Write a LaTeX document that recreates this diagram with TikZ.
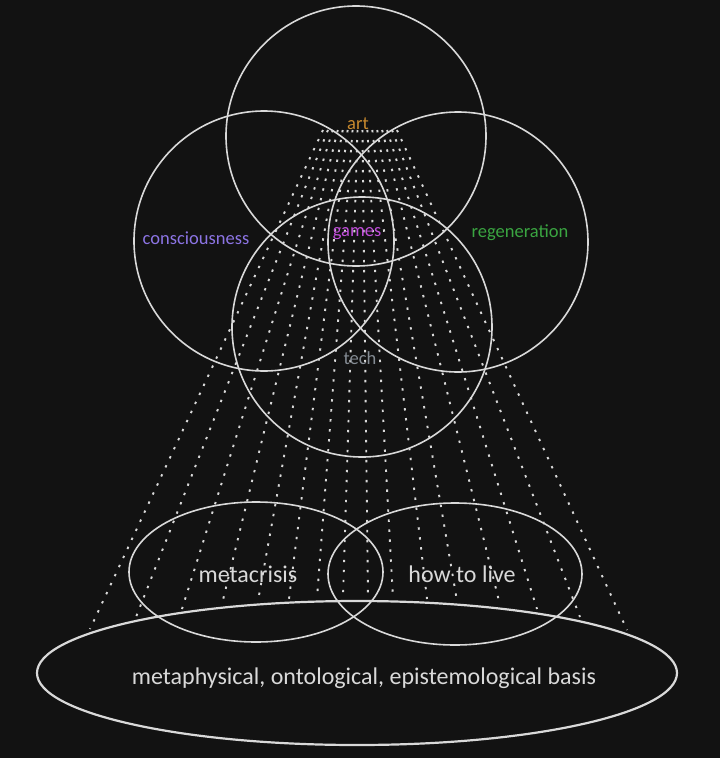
\documentclass[tikz,border=0pt]{standalone}
\usepackage{fontspec}
\setmainfont{Carlito}
\usetikzlibrary{shapes.geometric}

\definecolor{bg}{HTML}{121212}
\definecolor{ink}{HTML}{D9D9D9}
\definecolor{artc}{HTML}{C98A2E}
\definecolor{consc}{HTML}{8C74E4}
\definecolor{gamesc}{HTML}{C24FDC}
\definecolor{regenc}{HTML}{3AA541}
\definecolor{techc}{HTML}{858C94}

\begin{document}
\begin{tikzpicture}[x=1pt, y=-1pt,
        venn/.style={circle, draw=ink, line width=1.6pt, minimum size=260pt, inner sep=0pt},
        oval/.style={ellipse, draw=ink, line width=1.6pt, inner sep=0pt},
        ray/.style={ink, line width=1.9pt, dash pattern=on 2.4pt off 7.6pt},
        tag/.style={font=\fontsize{18.5}{20}\selectfont},
        big/.style={font=\fontsize{24}{26}\selectfont, text=ink}]
        \fill[bg] (0,0) rectangle (720,758);

        % fan of dotted rays
        \foreach \bx/\by [count=\i from 0] in {90/629, 136/617, 182/609, 222/604, 258/601, 289/599, 317/598, 343/597, 368/597, 393/598, 427/599, 457/601, 500/605, 537/609, 580/617, 627/630} {
            \coordinate (top\i) at ({323+4.93*\i}, 130);
            \coordinate (bot\i) at (\bx, \by);
            \draw[ray] (top\i) -- (bot\i);
        }

        % venn circles
        \node[venn] (art) at (356, 136) {};
        \node[venn] (consciousness) at (264, 241) {};
        \node[venn] (regeneration) at (458, 242) {};
        \node[venn] (tech) at (362, 327) {};

        % bottom ellipses
        \node[oval, minimum width=254pt, minimum height=140pt] (metacrisis) at (256, 572) {};
        \node[oval, minimum width=254pt, minimum height=142pt] (howtolive) at (455, 574) {};
        \node[oval, line width=2.2pt, minimum width=640pt, minimum height=144pt] (basis) at (357, 673) {};

        \node[tag, text=artc] (artlabel) at (358, 124) {art};
        \node[tag, text=consc] (conslabel) at (196, 238) {consciousness};
        \node[tag, text=gamesc] (gameslabel) at (357, 234) {games};
        \node[tag, text=regenc] (regenlabel) at (520, 233) {regeneration};
        \node[tag, text=techc] (techlabel) at (360, 358) {tech};

        \node[big] (metalabel) at (248, 574) {metacrisis};
        \node[big] (livelabel) at (462, 574) {how to live};
        \node[big] (basislabel) at (364, 678) {metaphysical, ontological, epistemological basis};
\end{tikzpicture}
\end{document}
